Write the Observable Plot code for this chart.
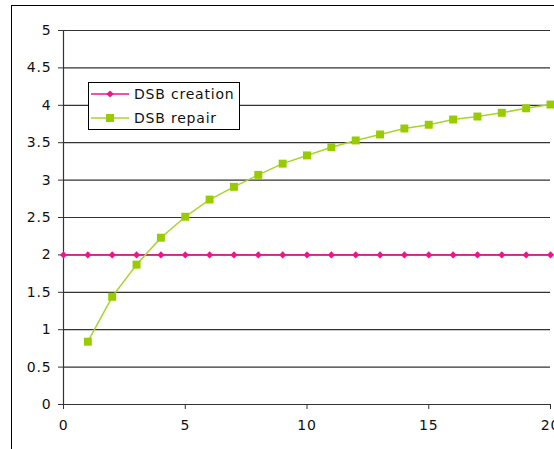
<!DOCTYPE html>
<html>
<head>
<meta charset="utf-8">
<script src="https://cdn.jsdelivr.net/npm/d3@7"></script>
<script src="https://cdn.jsdelivr.net/npm/@observablehq/plot@0.6"></script>
<style>
  html, body { margin: 0; padding: 0; background: #fff; overflow: hidden; }
  #wrap { position: relative; width: 554px; height: 449px; font-family: "DejaVu Sans", Verdana, sans-serif; }
  #frame { position: absolute; left: 11px; top: 5px; width: 700px; height: 600px; border-left: 1px solid #000; border-top: 1px solid #000; box-sizing: border-box; }
  #chart { position: absolute; left: 0; top: 0; }
  #chart svg text { letter-spacing: 0.8px; }
  #legend { position: absolute; left: 88px; top: 82px; width: 152px; height: 48px; border: 1px solid #000; background: #fff; box-sizing: border-box; font-size: 14px; letter-spacing: 0.8px; color: #111; }
  .item { position: absolute; left: 2px; height: 20px; display: flex; align-items: center; }
  .item svg { display: block; }
  .item span { margin-left: 5px; white-space: nowrap; }
</style>
</head>
<body>
<div id="wrap">
  <div id="frame"></div>
  <div id="chart"></div>
</div>
<script>
const xs = [0,1,2,3,4,5,6,7,8,9,10,11,12,13,14,15,16,17,18,19,20];
const creation = [2,2,2,2,2,2,2,2,2,2,2,2,2,2,2,2,2,2,2,2,2];
const repairX = [1,2,3,4,5,6,7,8,9,10,11,12,13,14,15,16,17,18,19,20];
const repair = [0.84,1.44,1.87,2.23,2.51,2.74,2.91,3.07,3.22,3.33,3.44,3.53,3.61,3.69,3.74,3.81,3.85,3.90,3.96,4.01];
const seriesNames = ["DSB creation", "DSB repair"];
const colors = ["#f0148c", "#99cc00"];
const yTicks = [0,0.5,1,1.5,2,2.5,3,3.5,4,4.5,5];
const xTicks = [0,5,10,15,20];

const creationData = xs.map((x, i) => ({x, y: creation[i]}));
const repairData = repairX.map((x, i) => ({x, y: repair[i]}));

const chart = Plot.plot({
  width: 554,
  height: 449,
  marginLeft: 63,
  marginRight: 4,
  marginTop: 30,
  marginBottom: 45,
  style: {fontFamily: '"DejaVu Sans", Verdana, sans-serif', fontSize: "14px", color: "#111", background: "transparent"},
  x: {domain: [0, 20], ticks: xTicks},
  y: {domain: [0, 5], ticks: yTicks},
  marks: [
    Plot.ruleY(yTicks, {stroke: "#333", strokeWidth: 1.2}),
    Plot.ruleX([0], {stroke: "#333", strokeWidth: 1.2}),
    Plot.axisY({ticks: yTicks, tickSize: 5, tickPadding: 7, label: null, tickFormat: d => String(d), stroke: "#333"}),
    Plot.axisX({ticks: xTicks, tickSize: 5, tickPadding: 11, label: null, tickFormat: d => String(d), stroke: "#333"}),
    Plot.line(creationData, {x: "x", y: "y", stroke: colors[0], strokeWidth: 1.5}),
    Plot.dot(creationData, {x: "x", y: "y", symbol: "diamond2", r: 3.2, fill: colors[0], stroke: "none"}),
    Plot.line(repairData, {x: "x", y: "y", stroke: "#a8d42c", strokeWidth: 1.5}),
    Plot.dot(repairData, {x: "x", y: "y", symbol: "square", r: 4.5, fill: colors[1], stroke: "none"})
  ]
});
document.getElementById("chart").appendChild(chart);

// legend
const legend = document.createElement("div");
legend.id = "legend";
seriesNames.forEach((name, i) => {
  const item = document.createElement("div");
  item.className = "item";
  item.style.top = (i === 0 ? 1 : 25) + "px";
  const sw = d3.create("svg").attr("width", 38).attr("height", 20);
  sw.append("line").attr("x1", 0).attr("x2", 38).attr("y1", 10).attr("y2", 10)
    .attr("stroke", i === 0 ? colors[0] : "#a8d42c").attr("stroke-width", 1.5);
  if (i === 0) {
    sw.append("path").attr("d", d3.symbol(d3.symbolDiamond2, Math.PI * 3.2 * 3.2)()).attr("transform", "translate(19,10)").attr("fill", colors[0]);
  } else {
    sw.append("path").attr("d", d3.symbol(d3.symbolSquare, Math.PI * 4.5 * 4.5)()).attr("transform", "translate(19,10)").attr("fill", colors[1]);
  }
  item.appendChild(sw.node());
  const label = document.createElement("span");
  label.textContent = name;
  item.appendChild(label);
  legend.appendChild(item);
});
document.getElementById("wrap").appendChild(legend);
</script>
</body>
</html>
